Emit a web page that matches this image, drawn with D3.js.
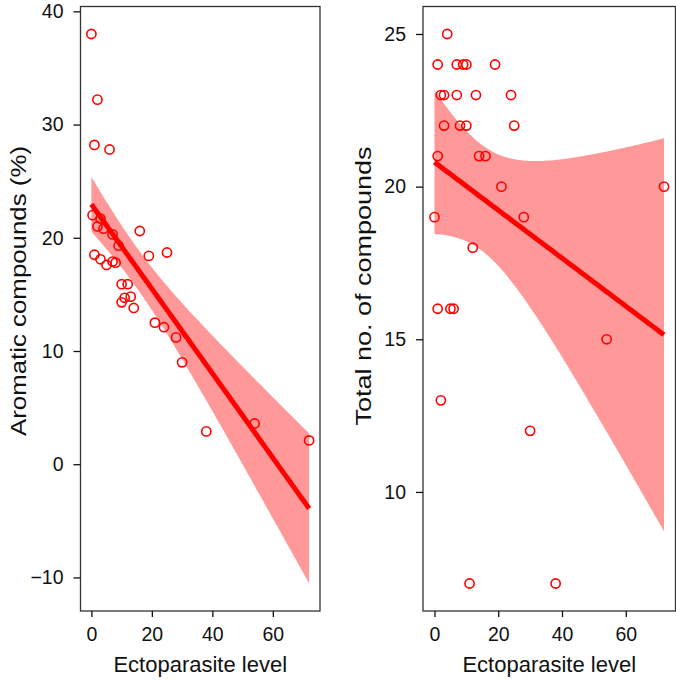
<!DOCTYPE html>
<html>
<head>
<meta charset="utf-8">
<script src="https://cdn.jsdelivr.net/npm/d3@7"></script>
<style>
  body { margin: 0; background: #fff; }
  svg { display: block; font-family: "Liberation Sans", Arial, sans-serif; }
</style>
</head>
<body>
<div id="vis"></div>
<script>
// ectoparasite level vs aromatic compounds (left panel)
let parasiteA = [0, 2, 1, 6, 0.4, 3, 2, 4, 7, 16, 9, 1, 3, 5, 7, 8, 19, 25,
  10, 12, 11, 13, 10, 14, 21, 24, 28, 30, 38, 54, 72];
let aromatic = [38.0, 32.2, 28.2, 27.8, 22.0, 21.7, 21.0, 20.8, 20.3, 20.6, 19.3, 18.5, 18.1, 17.6, 17.9, 17.8, 18.4, 18.7,
  15.9, 15.9, 14.7, 14.8, 14.3, 13.8, 12.5, 12.1, 11.2, 9.0, 2.9, 3.6, 2.1];

// ectoparasite level vs total number of compounds (right panel)
let parasiteB = [4, 1, 7, 9, 10, 19, 2, 3, 7, 13, 24, 3, 8, 10, 25, 1, 14, 16,
  21, 72, 0, 28, 12, 1, 5, 6, 54, 2, 30, 11, 38];
let totalCompounds = [25, 24, 24, 24, 24, 24, 23, 23, 23, 23, 23, 22, 22, 22, 22, 21, 21, 21,
  20, 20, 19, 19, 18, 16, 16, 16, 15, 13, 12, 7, 7];

let xTicks = [0, 20, 40, 60];
let yTicksA = [-10, 0, 10, 20, 30, 40];
let yTicksB = [10, 15, 20, 25];

let width = 676;
let height = 680;
let red = '#ff0000';
let bandFill = '#ff9999';
let tCrit = 2.045; // t(0.975, df = 29)

let svg = d3.select('#vis').append('svg')
  .attr('width', width)
  .attr('height', height);

/**
 * lmFit - ordinary least squares with 95% confidence band,
 * same thing geom_smooth(method = "lm") draws
 */
function lmFit(xs, ys) {
  let n = xs.length;
  let xbar = d3.mean(xs);
  let ybar = d3.mean(ys);
  let sxx = d3.sum(xs, x => (x - xbar) * (x - xbar));
  let sxy = d3.sum(xs, (x, i) => (x - xbar) * (ys[i] - ybar));
  let slope = sxy / sxx;
  let intercept = ybar - slope * xbar;
  let sse = d3.sum(xs, (x, i) => Math.pow(ys[i] - (intercept + slope * x), 2));
  let s = Math.sqrt(sse / (n - 2));
  let xs80 = d3.range(80).map(i => d3.min(xs) + (d3.max(xs) - d3.min(xs)) * i / 79);
  let band = xs80.map(x => {
    let fit = intercept + slope * x;
    let se = s * Math.sqrt(1 / n + (x - xbar) * (x - xbar) / sxx);
    return { x: x, fit: fit, lo: fit - tCrit * se, hi: fit + tCrit * se };
  });
  return band;
}

function expand(ext) {
  let pad = (ext[1] - ext[0]) * 0.05;
  return [ext[0] - pad, ext[1] + pad];
}

let drawPanel = function (opt) {
  let band = lmFit(opt.xs, opt.ys);
  let yExt = [
    Math.min(d3.min(opt.ys), d3.min(band, d => d.lo)),
    Math.max(d3.max(opt.ys), d3.max(band, d => d.hi))
  ];

  let x = d3.scaleLinear()
    .domain(expand(d3.extent(opt.xs)))
    .range([opt.left, opt.right]);
  let y = d3.scaleLinear()
    .domain(expand(yExt))
    .range([opt.bottom, opt.top]);

  let g = svg.append('g');

  // confidence ribbon
  let area = d3.area()
    .x(d => x(d.x))
    .y0(d => y(d.lo))
    .y1(d => y(d.hi));
  g.append('path')
    .attr('d', area(band))
    .attr('fill', bandFill);

  // fitted line
  let line = d3.line()
    .x(d => x(d.x))
    .y(d => y(d.fit));
  g.append('path')
    .attr('d', line(band))
    .attr('fill', 'none')
    .attr('stroke', red)
    .attr('stroke-width', 5);

  // points
  g.selectAll('.pt')
    .data(opt.xs)
    .enter()
    .append('circle')
    .attr('class', 'pt')
    .attr('cx', d => x(d))
    .attr('cy', (d, i) => y(opt.ys[i]))
    .attr('r', 4.6)
    .attr('fill', 'none')
    .attr('stroke', red)
    .attr('stroke-width', 1.6);

  // panel border
  g.append('rect')
    .attr('x', opt.left)
    .attr('y', opt.top)
    .attr('width', opt.right - opt.left)
    .attr('height', opt.bottom - opt.top)
    .attr('fill', 'none')
    .attr('stroke', '#333')
    .attr('stroke-width', 1.3);

  // axes
  let xAxis = d3.axisBottom(x)
    .tickValues(xTicks)
    .tickSizeInner(6)
    .tickSizeOuter(0)
    .tickPadding(10);
  g.append('g')
    .attr('transform', 'translate(0,' + opt.bottom + ')')
    .call(xAxis);

  let yAxis = d3.axisLeft(y)
    .tickValues(opt.yTicks)
    .tickSizeInner(7)
    .tickSizeOuter(0)
    .tickPadding(10);
  g.append('g')
    .attr('transform', 'translate(' + opt.left + ',0)')
    .call(yAxis);

  g.selectAll('.domain').remove();
  g.selectAll('.tick line').attr('stroke', '#111').attr('stroke-width', 1.3);
  g.selectAll('.tick text')
    .attr('fill', '#111')
    .style('font-size', '19.5px')
    .style('font-family', '"Liberation Sans", Arial, sans-serif');

  // axis titles
  g.append('text')
    .attr('x', (opt.left + opt.right) / 2)
    .attr('y', 672)
    .attr('text-anchor', 'middle')
    .attr('fill', '#111')
    .style('font-size', '22px')
    .text('Ectoparasite level');

  // y title is drawn stretched along its length, like the reference
  g.append('text')
    .attr('transform', 'translate(' + opt.titleX + ',' + opt.titleY + ') rotate(-90)')
    .attr('text-anchor', 'middle')
    .attr('fill', '#111')
    .attr('textLength', opt.titleLen)
    .attr('lengthAdjust', 'spacingAndGlyphs')
    .style('font-size', '22px')
    .text(opt.yTitle);
};

drawPanel({
  xs: parasiteA, ys: aromatic, yTicks: yTicksA,
  left: 80.5, right: 320, top: 6.5, bottom: 611,
  titleX: 26, titleY: 291, titleLen: 290, yTitle: 'Aromatic compounds (%)'
});

drawPanel({
  xs: parasiteB, ys: totalCompounds, yTicks: yTicksB,
  left: 423, right: 675.5, top: 6.5, bottom: 611,
  titleX: 371, titleY: 286, titleLen: 279, yTitle: 'Total no. of compounds'
});
</script>
</body>
</html>
